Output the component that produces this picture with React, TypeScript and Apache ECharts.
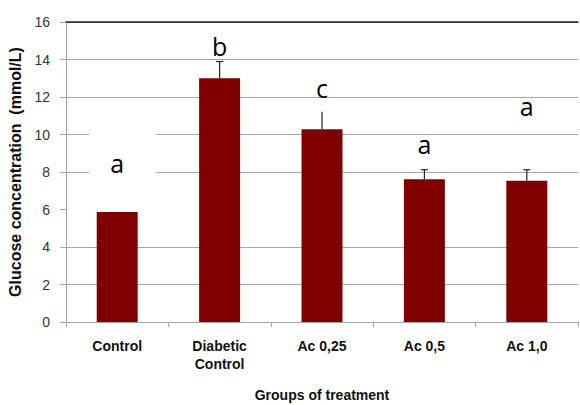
import React, { useEffect, useRef } from "react";
import * as echarts from "echarts";

const categories = ["Control", "Diabetic\nControl", "Ac 0,25", "Ac 0,5", "Ac 1,0"];
const means = [5.87, 13.0, 10.28, 7.61, 7.54];
const errors = [0, 0.89, 0.94, 0.51, 0.58];
const errorCaps = [false, true, false, true, true];
const letters = ["a", "b", "c", "a", "a"];
const letterY = [8.5, 14.7, 12.5, 9.5, 11.5];
const letterBox = [true, false, false, false, false];
const yMin = 0;
const yMax = 16;
const yStep = 2;

const GRID = "#a6a6a6";

export default function App() {
  const ref = useRef<HTMLDivElement>(null);
  useEffect(() => {
    if (!ref.current) return;
    const chart = echarts.init(ref.current, undefined, { renderer: "svg" });
    const splitColors = [GRID, GRID, GRID, "rgba(0,0,0,0)", GRID, GRID, GRID, GRID, "#333333"];
    chart.setOption({
      animation: false,
      backgroundColor: "#ffffff",
      grid: { left: 66, top: 22, width: 512, height: 300, containLabel: false, outerBoundsMode: "none" },
      xAxis: [
        {
          type: "category",
          data: categories,
          boundaryGap: true,
          name: "Groups of treatment",
          nameLocation: "middle",
          nameGap: 66,
          nameTextStyle: { fontFamily: "Liberation Sans", fontWeight: "bold", fontSize: 14, color: "#111" },
          axisLine: { show: true, lineStyle: { color: GRID, width: 1 } },
          axisTick: { show: true, length: 5, lineStyle: { color: GRID } },
          axisLabel: {
            margin: 15,
            fontFamily: "Liberation Sans",
            fontWeight: "bold",
            fontSize: 14,
            lineHeight: 18,
            color: "#111",
            interval: 0,
          },
          splitLine: { show: false },
        },
        {
          type: "category",
          data: categories,
          position: "top",
          axisLine: { show: true, lineStyle: { color: "#333333", width: 1.5 } },
          axisTick: { show: false },
          axisLabel: { show: false },
          splitLine: { show: false },
        },
      ],
      yAxis: {
        type: "value",
        min: yMin,
        max: yMax,
        interval: yStep,
        name: "Glucose concentration  (mmol/L)",
        nameLocation: "middle",
        nameGap: 41,
        nameTextStyle: { fontFamily: "Liberation Sans", fontWeight: "bold", fontSize: 16, color: "#111" },
        axisLine: { show: true, lineStyle: { color: GRID, width: 1 } },
        axisTick: { show: true, length: 6, lineStyle: { color: GRID } },
        axisLabel: { margin: 16, fontFamily: "Liberation Sans", fontSize: 14, color: "#333" },
        splitLine: { show: true, lineStyle: { color: splitColors, width: 1 } },
      },
      series: [
        {
          type: "bar",
          data: means,
          barWidth: "40%",
          itemStyle: { color: "#800000" },
        },
        {
          type: "custom",
          data: means.map((m, i) => [i, m, errors[i], errorCaps[i] ? 1 : 0]),
          z: 5,
          renderItem: (params: any, api: any) => {
            const i = api.value(0);
            const m = api.value(1);
            const e = api.value(2);
            const cap = api.value(3);
            if (!e) return null;
            const b = api.coord([i, m]);
            const t = api.coord([i, m + e]);
            const style = { stroke: "#222", lineWidth: 1.2 };
            const children: any[] = [
              { type: "line", shape: { x1: b[0], y1: b[1], x2: t[0], y2: t[1] }, style },
            ];
            if (cap) {
              children.push({ type: "line", shape: { x1: t[0] - 3.5, y1: t[1], x2: t[0] + 3.5, y2: t[1] }, style });
            }
            return { type: "group", children };
          },
        },
        {
          type: "custom",
          data: letterY.map((y, i) => [i, y, letterBox[i] ? 1 : 0]),
          z: 6,
          renderItem: (params: any, api: any) => {
            const i = api.value(0);
            const y = api.value(1);
            const box = api.value(2);
            const p = api.coord([i, y]);
            const children: any[] = [];
            if (box) {
              children.push({
                type: "rect",
                shape: { x: p[0] - 28, y: p[1] - 34, width: 67, height: 52 },
                style: { fill: "#ffffff" },
              });
            }
            children.push({
              type: "text",
              x: p[0],
              y: p[1],
              style: {
                text: letters[params.dataIndex],
                fontFamily: "Open Sans",
                fontSize: 25,
                fill: "#000",
                align: "center",
                verticalAlign: "middle",
              },
            });
            return { type: "group", children };
          },
        },
      ],
    });
    return () => chart.dispose();
  }, []);
  return (
    <div
      ref={ref}
      style={{ position: "absolute", left: 0, top: 0, width: 580, height: 405, background: "#fff" }}
    />
  );
}
